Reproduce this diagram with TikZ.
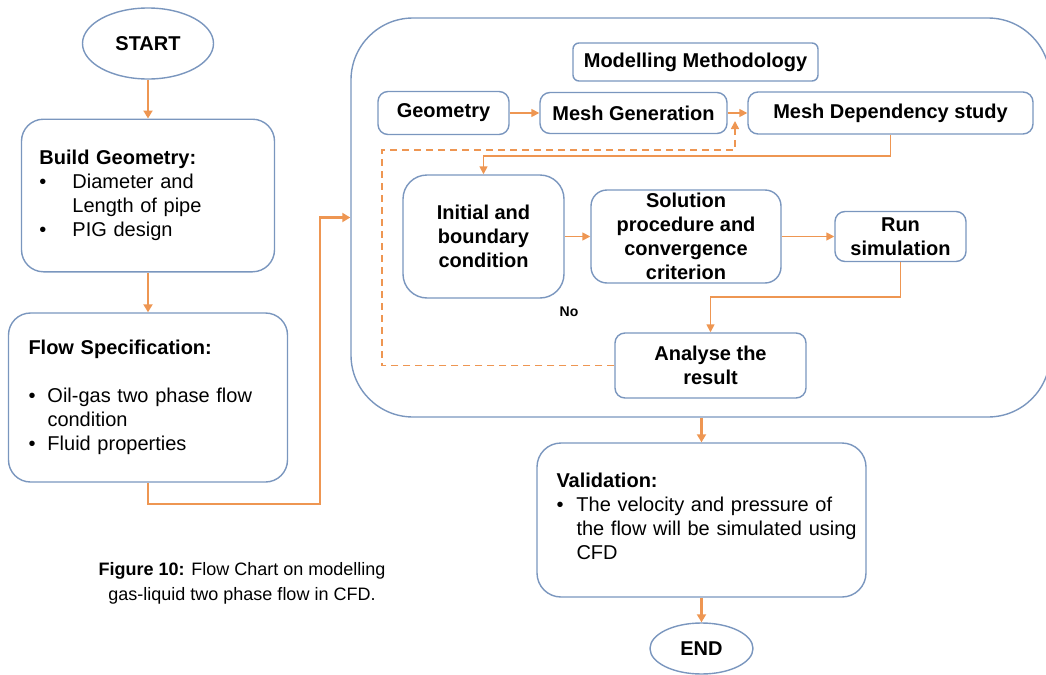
\documentclass[tikz,border=0pt]{standalone}
\usepackage{fontspec}
\setmainfont{Liberation Sans}
\usetikzlibrary{shapes.geometric,arrows.meta}
\definecolor{boxline}{RGB}{122,150,190}
\definecolor{flowline}{RGB}{238,150,82}
\newcommand{\bul}[1]{\makebox[#1][l]{\textbullet}}

\begin{document}
\begin{tikzpicture}[
  x=0.5pt, y=-0.5pt,
  every node/.style={inner sep=0pt, font=\fontsize{10}{12}\selectfont},
  term/.style={ellipse, draw=boxline, line width=0.7pt, font=\bfseries\fontsize{10}{12}\selectfont},
  listbox/.style={draw=boxline, line width=0.7pt, rounded corners=11pt, align=left},
  stepbox/.style={draw=boxline, line width=0.7pt, rounded corners=5pt, align=center,
    font=\bfseries\fontsize{10}{12}\selectfont},
  % the main chain uses heavier arrows than the inner method loop
  arrow/.style={draw=flowline, line width=1.4pt, -{Triangle[length=4pt,width=4.5pt]}},
  sarrow/.style={draw=flowline, line width=0.8pt, -{Triangle[length=4pt,width=4pt]}},
  darrow/.style={sarrow, dash pattern=on 3.5pt off 2.5pt}]

  \useasboundingbox (0,0) rectangle (1046,675);

  % outer frame of the method part
  \node[draw=boxline, line width=0.7pt, rounded corners=31pt,
    minimum width=349.5pt, minimum height=199.5pt] (method) at (700.5,217.5) {};

  % vertices
  \node[term, minimum width=65.5pt, minimum height=35.5pt] (start) at (148,43.5) {START};
  \node[listbox, minimum width=126.5pt, minimum height=76.3pt, text width=108.5pt]
    (build) at (148,195.5)
    {\textbf{Build Geometry:}\\
     \bul{16.5pt}Diameter and\\
     \hspace*{16.5pt}Length of pipe\\
     \bul{16.5pt}PIG design};
  \node[listbox, minimum width=139.5pt, minimum height=84.5pt, text width=119.5pt]
    (flow) at (148,397.5)
    {\textbf{Flow Specification:}\\[12pt]
     \bul{9.5pt}Oil-gas two phase flow\\
     \hspace*{9.5pt}condition\\
     \bul{9.5pt}Fluid properties};

  \node[stepbox, rounded corners=3pt, minimum width=122.5pt, minimum height=19pt] (mm) at (695.5,62) {Modelling Methodology};
  \node[stepbox, minimum width=65.5pt, minimum height=21.5pt] (geo)  at (443.5,113) {Geometry};
  \node[stepbox, minimum width=93.5pt, minimum height=20.5pt] (mesh) at (633.5,113) {Mesh Generation};
  \node[stepbox, minimum width=142.5pt, minimum height=21pt] (dep)  at (890.5,113) {Mesh Dependency study};

  \node[stepbox, rounded corners=12pt, minimum width=80.5pt, minimum height=61.5pt] (init) at (483.5,236.5)
    {Initial and\\boundary\\condition};
  \node[stepbox, rounded corners=8pt, minimum width=95pt, minimum height=46.5pt] (sol) at (686,236.5)
    {Solution\\procedure and\\convergence\\criterion};
  \node[stepbox, minimum width=65.5pt, minimum height=25pt] (run) at (900.5,236.5) {Run\\simulation};
  \node[stepbox, minimum width=95.5pt, minimum height=32.5pt] (ana) at (710.5,365.5) {Analyse the\\result};

  \node[listbox, rounded corners=12pt, minimum width=164.5pt, minimum height=77pt, text width=145pt]
    (val) at (701.5,520)
    {\textbf{Validation:}\\
     \mbox{\bul{10pt}The velocity and pressure of}\\
     \mbox{\hspace*{10pt}the flow will be simulated using}\\
     \mbox{\hspace*{10pt}CFD}\\[-8pt]
     ~};
  \node[term, minimum width=51.5pt, minimum height=25.5pt] (end) at (701.5,648.5) {END};

  % arrows
  \coordinate (turn) at (320,504);
  \coordinate (j1) at (700,156);
  \coordinate (j2) at (800,297);
  \coordinate (d1) at (382,150);
  \coordinate (fb) at (735,121);

  \draw[arrow] (start) -- (build);
  \draw[arrow] (build) -- (flow);
  \draw[arrow] (flow.south) |- (turn) |- (method.west);

  \draw[sarrow] (geo) -- (mesh);
  \draw[sarrow] (mesh) -- (dep);
  \draw[sarrow] (dep.south) |- (j1) -| (init.north);
  \draw[sarrow] (init) -- (sol);
  \draw[sarrow] (sol) -- (run);
  \draw[sarrow] (run.south) |- (j2) -| (ana.north);
  \draw[darrow] (ana.west) -| (d1) -| (fb);

  \draw[arrow] (val.north |- method.south) -- (val.north);
  \draw[arrow] (val) -- (end);

  % labels printed inside the picture
  \node[font=\bfseries\fontsize{7}{8}\selectfont] (no) at (569,312) {No};
  \node[align=center, font=\fontsize{9}{12.5}\selectfont] (cap) at (242,583)
    {\textbf{Figure 10:} Flow Chart on modelling\\gas-liquid two phase flow in CFD.};
\end{tikzpicture}
\end{document}
